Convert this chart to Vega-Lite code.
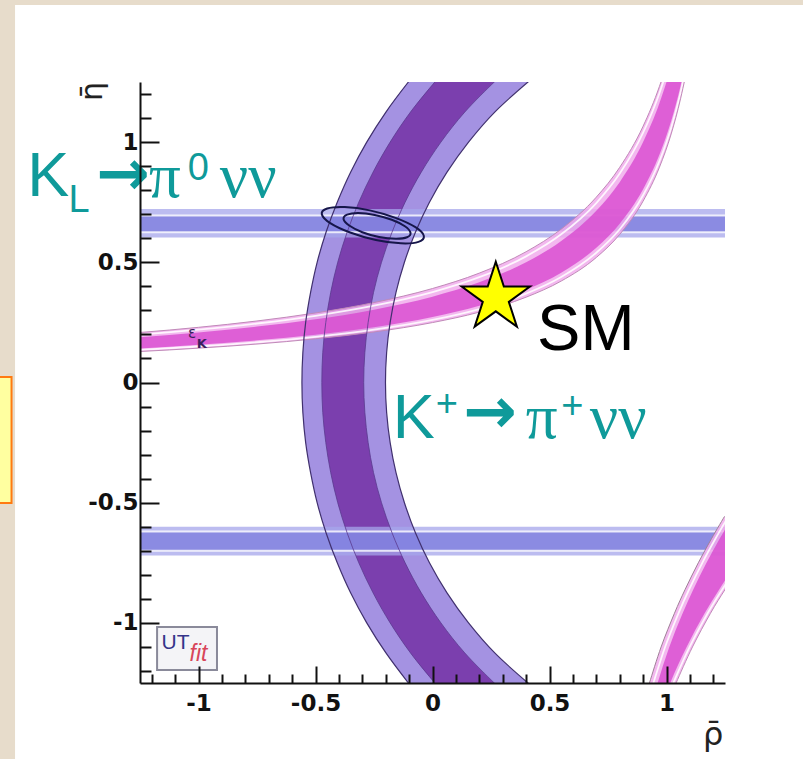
{
  "$schema": "https://vega.github.io/schema/vega-lite/v6.json",
  "width": 585,
  "height": 601,
  "autosize": {"type": "none"},
  "padding": {"left": 140, "top": 82, "right": 78, "bottom": 76},
  "background": "#e7dccb",
  "config": {"view": {"stroke": "#111111", "strokeWidth": 1.5}},
  "resolve": {"axis": {"x": "independent", "y": "independent"}},
  "datasets": {
    "ring": [
      {"eta": -1.3, "outL": -0.059, "inL": 0.057, "inR": 0.322, "outR": 0.476},
      {"eta": -1.25, "outL": -0.103, "inL": 0.010, "inR": 0.264, "outR": 0.408},
      {"eta": -1.125, "outL": -0.199, "inL": -0.094, "inR": 0.138, "outR": 0.266},
      {"eta": -1.0, "outL": -0.281, "inL": -0.181, "inR": 0.036, "outR": 0.154},
      {"eta": -0.875, "outL": -0.350, "inL": -0.254, "inR": -0.048, "outR": 0.062},
      {"eta": -0.75, "outL": -0.407, "inL": -0.315, "inR": -0.117, "outR": -0.013},
      {"eta": -0.625, "outL": -0.455, "inL": -0.365, "inR": -0.173, "outR": -0.073},
      {"eta": -0.5, "outL": -0.493, "inL": -0.405, "inR": -0.218, "outR": -0.120},
      {"eta": -0.375, "outL": -0.521, "inL": -0.435, "inR": -0.252, "outR": -0.156},
      {"eta": -0.25, "outL": -0.542, "inL": -0.456, "inR": -0.275, "outR": -0.181},
      {"eta": -0.125, "outL": -0.554, "inL": -0.469, "inR": -0.289, "outR": -0.196},
      {"eta": 0, "outL": -0.558, "inL": -0.473, "inR": -0.294, "outR": -0.201},
      {"eta": 0.125, "outL": -0.554, "inL": -0.469, "inR": -0.289, "outR": -0.196},
      {"eta": 0.25, "outL": -0.542, "inL": -0.456, "inR": -0.275, "outR": -0.181},
      {"eta": 0.375, "outL": -0.521, "inL": -0.435, "inR": -0.252, "outR": -0.156},
      {"eta": 0.5, "outL": -0.493, "inL": -0.405, "inR": -0.218, "outR": -0.120},
      {"eta": 0.625, "outL": -0.455, "inL": -0.365, "inR": -0.173, "outR": -0.073},
      {"eta": 0.75, "outL": -0.407, "inL": -0.315, "inR": -0.117, "outR": -0.013},
      {"eta": 0.875, "outL": -0.350, "inL": -0.254, "inR": -0.048, "outR": 0.062},
      {"eta": 1.0, "outL": -0.281, "inL": -0.181, "inR": 0.036, "outR": 0.154},
      {"eta": 1.125, "outL": -0.199, "inL": -0.094, "inR": 0.138, "outR": 0.266},
      {"eta": 1.25, "outL": -0.103, "inL": 0.010, "inR": 0.264, "outR": 0.408},
      {"eta": 1.3, "outL": -0.059, "inL": 0.057, "inR": 0.322, "outR": 0.476}
    ],
    "epsK": [
      {"rho": -1.3, "ot": 0.2042, "wt": 0.1956, "ct": 0.1852, "cb": 0.1391, "wb": 0.1327, "ob": 0.1267},
      {"rho": -1.25, "ot": 0.208, "wt": 0.1992, "ct": 0.1887, "cb": 0.1418, "wb": 0.1353, "ob": 0.129},
      {"rho": -1.0, "ot": 0.2295, "wt": 0.2199, "ct": 0.2083, "cb": 0.1568, "wb": 0.1497, "ob": 0.1429},
      {"rho": -0.75, "ot": 0.2559, "wt": 0.2454, "ct": 0.2326, "cb": 0.1754, "wb": 0.1675, "ob": 0.160},
      {"rho": -0.5, "ot": 0.2892, "wt": 0.2775, "ct": 0.2632, "cb": 0.1989, "wb": 0.1901, "ob": 0.1817},
      {"rho": -0.25, "ot": 0.3325, "wt": 0.3193, "ct": 0.3030, "cb": 0.2298, "wb": 0.2197, "ob": 0.2102},
      {"rho": 0, "ot": 0.391, "wt": 0.3759, "ct": 0.3571, "cb": 0.2721, "wb": 0.2604, "ob": 0.2493},
      {"rho": 0.2, "ot": 0.455, "wt": 0.438, "ct": 0.4167, "cb": 0.319, "wb": 0.3056, "ob": 0.2928},
      {"rho": 0.4, "ot": 0.544, "wt": 0.5248, "ct": 0.500, "cb": 0.3854, "wb": 0.3697, "ob": 0.3549},
      {"rho": 0.55, "ot": 0.638, "wt": 0.6163, "ct": 0.5882, "cb": 0.4568, "wb": 0.4389, "ob": 0.4219},
      {"rho": 0.7, "ot": 0.771, "wt": 0.7465, "ct": 0.7143, "cb": 0.5606, "wb": 0.5399, "ob": 0.520},
      {"rho": 0.8, "ot": 0.895, "wt": 0.8689, "ct": 0.8333, "cb": 0.6607, "wb": 0.6377, "ob": 0.616},
      {"rho": 0.9, "ot": 1.066, "wt": 1.0392, "ct": 1.0, "cb": 0.8043, "wb": 0.7788, "ob": 0.7545},
      {"rho": 0.97, "ot": 1.232, "wt": 1.2045, "ct": 1.163, "cb": 0.9487, "wb": 0.9215, "ob": 0.8957},
      {"rho": 1.02, "ot": 1.386, "wt": 1.359, "ct": 1.316, "cb": 1.088, "wb": 1.060, "ob": 1.034},
      {"rho": 1.06, "ot": 1.539, "wt": 1.514, "ct": 1.471, "cb": 1.233, "wb": 1.2055, "ob": 1.180},
      {"rho": 1.1, "ot": 1.731, "wt": 1.71, "ct": 1.667, "cb": 1.423, "wb": 1.397, "ob": 1.373},
      {"rho": 1.15, "ot": 2.05, "wt": 2.04, "ct": 2.0, "cb": 1.762, "wb": 1.743, "ob": 1.727}
    ],
    "epsK2": [
      {"eta": -1.3, "ol": 0.912, "wl": 0.929, "cl": 0.947, "cr": 0.996, "wr": 1.009, "or": 1.021},
      {"eta": -1.25, "ol": 0.927, "wl": 0.944, "cl": 0.962, "cr": 1.016, "wr": 1.029, "or": 1.041},
      {"eta": -1.1, "ol": 0.977, "wl": 0.994, "cl": 1.012, "cr": 1.086, "wr": 1.099, "or": 1.111},
      {"eta": -0.96, "ol": 1.034, "wl": 1.051, "cl": 1.069, "cr": 1.163, "wr": 1.176, "or": 1.188},
      {"eta": -0.86, "ol": 1.080, "wl": 1.097, "cl": 1.115, "cr": 1.226, "wr": 1.239, "or": 1.251},
      {"eta": -0.75, "ol": 1.136, "wl": 1.153, "cl": 1.171, "cr": 1.301, "wr": 1.314, "or": 1.326},
      {"eta": -0.65, "ol": 1.192, "wl": 1.209, "cl": 1.227, "cr": 1.376, "wr": 1.389, "or": 1.401},
      {"eta": -0.557, "ol": 1.248, "wl": 1.265, "cl": 1.283, "cr": 1.451, "wr": 1.464, "or": 1.476}
    ],
    "klBands": [
      {"band": "upper", "o1": 0.603, "o2": 0.722, "i1": 0.625, "i2": 0.695},
      {"band": "lower", "o1": -0.720, "o2": -0.600, "i1": -0.700, "i2": -0.620}
    ],
    "contours": [
      {"e": "95", "i": 0, "rho": -0.037, "eta": 0.610},
      {"e": "95", "i": 1, "rho": -0.073, "eta": 0.646},
      {"e": "95", "i": 2, "rho": -0.158, "eta": 0.685},
      {"e": "95", "i": 3, "rho": -0.268, "eta": 0.716},
      {"e": "95", "i": 4, "rho": -0.375, "eta": 0.730},
      {"e": "95", "i": 5, "rho": -0.450, "eta": 0.724},
      {"e": "95", "i": 6, "rho": -0.473, "eta": 0.700},
      {"e": "95", "i": 7, "rho": -0.437, "eta": 0.663},
      {"e": "95", "i": 8, "rho": -0.352, "eta": 0.624},
      {"e": "95", "i": 9, "rho": -0.242, "eta": 0.593},
      {"e": "95", "i": 10, "rho": -0.135, "eta": 0.579},
      {"e": "95", "i": 11, "rho": -0.060, "eta": 0.585},
      {"e": "68", "i": 0, "rho": -0.094, "eta": 0.623},
      {"e": "68", "i": 1, "rho": -0.118, "eta": 0.650},
      {"e": "68", "i": 2, "rho": -0.174, "eta": 0.677},
      {"e": "68", "i": 3, "rho": -0.247, "eta": 0.697},
      {"e": "68", "i": 4, "rho": -0.317, "eta": 0.705},
      {"e": "68", "i": 5, "rho": -0.365, "eta": 0.698},
      {"e": "68", "i": 6, "rho": -0.380, "eta": 0.679},
      {"e": "68", "i": 7, "rho": -0.356, "eta": 0.653},
      {"e": "68", "i": 8, "rho": -0.300, "eta": 0.625},
      {"e": "68", "i": 9, "rho": -0.228, "eta": 0.605},
      {"e": "68", "i": 10, "rho": -0.157, "eta": 0.598},
      {"e": "68", "i": 11, "rho": -0.109, "eta": 0.604}
    ]
  },
  "layer": [
    {
      "description": "white slide panel behind the plot",
      "data": {"values": [{"x1": -1.784, "x2": 1.75, "y1": -1.75, "y2": 1.57}]},
      "mark": {"type": "rect", "fill": "#ffffff", "clip": false},
      "encoding": {
        "x": {"field": "x1", "type": "quantitative", "axis": null},
        "x2": {"field": "x2"},
        "y": {"field": "y1", "type": "quantitative", "axis": null},
        "y2": {"field": "y2"}
      }
    },
    {
      "description": "edge of a neighbouring slide box",
      "data": {"values": [{"x1": -1.87, "x2": -1.799, "y1": -0.501, "y2": 0.023}]},
      "mark": {"type": "rect", "fill": "#ffffa0", "stroke": "#ff7a10", "strokeWidth": 2, "clip": false},
      "encoding": {
        "x": {"field": "x1", "type": "quantitative", "axis": null},
        "x2": {"field": "x2"},
        "y": {"field": "y1", "type": "quantitative", "axis": null},
        "y2": {"field": "y2"}
      }
    },
    {
      "description": "K+ -> pi+ nu nu ring, 95% region",
      "data": {"name": "ring"},
      "mark": {"type": "area", "orient": "horizontal", "interpolate": "monotone", "color": "#a492e2", "clip": true},
      "encoding": {
        "y": {"field": "eta", "type": "quantitative", "axis": null},
        "x": {"field": "outL", "type": "quantitative", "axis": null},
        "x2": {"field": "outR"}
      }
    },
    {
      "description": "K+ -> pi+ nu nu ring, 68% region",
      "data": {"name": "ring"},
      "mark": {"type": "area", "orient": "horizontal", "interpolate": "monotone", "color": "#7b3fae", "clip": true},
      "encoding": {
        "y": {"field": "eta", "type": "quantitative", "axis": null},
        "x": {"field": "inL", "type": "quantitative", "axis": null},
        "x2": {"field": "inR"}
      }
    },
    {
      "description": "KL -> pi0 nu nu bands, 95%",
      "data": {"name": "klBands"},
      "mark": {"type": "rect", "color": "#a6a6eb", "opacity": 0.75, "clip": true},
      "encoding": {
        "y": {"field": "o1", "type": "quantitative", "axis": null},
        "y2": {"field": "o2"}
      }
    },
    {
      "description": "KL -> pi0 nu nu bands, 68%",
      "data": {"name": "klBands"},
      "mark": {"type": "rect", "color": "#7b7bdd", "opacity": 0.75, "clip": true},
      "encoding": {
        "y": {"field": "i1", "type": "quantitative", "axis": null},
        "y2": {"field": "i2"}
      }
    },
    {
      "data": {"name": "klBands"},
      "mark": {"type": "rule", "color": "#ffffff", "strokeWidth": 2, "opacity": 0.8, "clip": true},
      "encoding": {"y": {"field": "i1", "type": "quantitative", "axis": null}}
    },
    {
      "data": {"name": "klBands"},
      "mark": {"type": "rule", "color": "#ffffff", "strokeWidth": 2, "opacity": 0.8, "clip": true},
      "encoding": {"y": {"field": "i2", "type": "quantitative", "axis": null}}
    },
    {
      "description": "epsilon_K hyperbola, 95%",
      "data": {"name": "epsK"},
      "mark": {"type": "area", "interpolate": "monotone", "color": "#f1abec", "opacity": 0.85, "clip": true},
      "encoding": {
        "x": {"field": "rho", "type": "quantitative", "axis": null},
        "y": {"field": "ob", "type": "quantitative", "axis": null},
        "y2": {"field": "ot"}
      }
    },
    {
      "description": "epsilon_K hyperbola, 68%",
      "data": {"name": "epsK"},
      "mark": {"type": "area", "interpolate": "monotone", "color": "#d747ce", "opacity": 0.78, "clip": true},
      "encoding": {
        "x": {"field": "rho", "type": "quantitative", "axis": null},
        "y": {"field": "cb", "type": "quantitative", "axis": null},
        "y2": {"field": "ct"}
      }
    },
    {
      "data": {"name": "epsK2"},
      "mark": {"type": "area", "orient": "horizontal", "interpolate": "monotone", "color": "#f1abec", "opacity": 0.85, "clip": true},
      "encoding": {
        "y": {"field": "eta", "type": "quantitative", "axis": null},
        "x": {"field": "ol", "type": "quantitative", "axis": null},
        "x2": {"field": "or"}
      }
    },
    {
      "data": {"name": "epsK2"},
      "mark": {"type": "area", "orient": "horizontal", "interpolate": "monotone", "color": "#d747ce", "opacity": 0.78, "clip": true},
      "encoding": {
        "y": {"field": "eta", "type": "quantitative", "axis": null},
        "x": {"field": "cl", "type": "quantitative", "axis": null},
        "x2": {"field": "cr"}
      }
    },
    {
      "data": {"name": "epsK"},
      "mark": {"type": "line", "interpolate": "monotone", "color": "#ffffff", "strokeWidth": 1.8, "opacity": 0.85, "clip": true},
      "encoding": {
        "x": {"field": "rho", "type": "quantitative", "axis": null},
        "y": {"field": "wt", "type": "quantitative", "axis": null}
      }
    },
    {
      "data": {"name": "epsK"},
      "mark": {"type": "line", "interpolate": "monotone", "color": "#ffffff", "strokeWidth": 1.8, "opacity": 0.85, "clip": true},
      "encoding": {
        "x": {"field": "rho", "type": "quantitative", "axis": null},
        "y": {"field": "wb", "type": "quantitative", "axis": null}
      }
    },
    {
      "data": {"name": "epsK"},
      "mark": {"type": "line", "interpolate": "monotone", "color": "#c08ab8", "strokeWidth": 1, "clip": true},
      "encoding": {
        "x": {"field": "rho", "type": "quantitative", "axis": null},
        "y": {"field": "ot", "type": "quantitative", "axis": null}
      }
    },
    {
      "data": {"name": "epsK"},
      "mark": {"type": "line", "interpolate": "monotone", "color": "#c08ab8", "strokeWidth": 1, "clip": true},
      "encoding": {
        "x": {"field": "rho", "type": "quantitative", "axis": null},
        "y": {"field": "ob", "type": "quantitative", "axis": null}
      }
    },
    {
      "data": {"name": "epsK2"},
      "mark": {"type": "line", "interpolate": "cardinal", "color": "#ffffff", "strokeWidth": 1.8, "opacity": 0.85, "clip": true},
      "encoding": {
        "y": {"field": "eta", "type": "quantitative", "axis": null},
        "x": {"field": "wl", "type": "quantitative", "axis": null},
        "order": {"field": "eta"}
      }
    },
    {
      "data": {"name": "epsK2"},
      "mark": {"type": "line", "interpolate": "cardinal", "color": "#ffffff", "strokeWidth": 1.8, "opacity": 0.85, "clip": true},
      "encoding": {
        "y": {"field": "eta", "type": "quantitative", "axis": null},
        "x": {"field": "wr", "type": "quantitative", "axis": null},
        "order": {"field": "eta"}
      }
    },
    {
      "data": {"name": "epsK2"},
      "mark": {"type": "line", "interpolate": "cardinal", "color": "#a08098", "strokeWidth": 1, "clip": true},
      "encoding": {
        "y": {"field": "eta", "type": "quantitative", "axis": null},
        "x": {"field": "ol", "type": "quantitative", "axis": null},
        "order": {"field": "eta"}
      }
    },
    {
      "data": {"name": "epsK2"},
      "mark": {"type": "line", "interpolate": "cardinal", "color": "#c08ab8", "strokeWidth": 1, "clip": true},
      "encoding": {
        "y": {"field": "eta", "type": "quantitative", "axis": null},
        "x": {"field": "or", "type": "quantitative", "axis": null},
        "order": {"field": "eta"}
      }
    },
    {
      "description": "outlines of the K+ ring",
      "data": {"name": "ring"},
      "mark": {"type": "line", "interpolate": "cardinal", "color": "#40306e", "strokeWidth": 1.2, "clip": true},
      "encoding": {
        "y": {"field": "eta", "type": "quantitative", "axis": null},
        "x": {"field": "outL", "type": "quantitative", "axis": null},
        "order": {"field": "eta"}
      }
    },
    {
      "data": {"name": "ring"},
      "mark": {"type": "line", "interpolate": "cardinal", "color": "#40306e", "strokeWidth": 1.2, "clip": true},
      "encoding": {
        "y": {"field": "eta", "type": "quantitative", "axis": null},
        "x": {"field": "outR", "type": "quantitative", "axis": null},
        "order": {"field": "eta"}
      }
    },
    {
      "data": {"name": "ring"},
      "mark": {"type": "line", "interpolate": "cardinal", "color": "#5a3a8e", "strokeWidth": 1, "opacity": 0.8, "clip": true},
      "encoding": {
        "y": {"field": "eta", "type": "quantitative", "axis": null},
        "x": {"field": "inL", "type": "quantitative", "axis": null},
        "order": {"field": "eta"}
      }
    },
    {
      "data": {"name": "ring"},
      "mark": {"type": "line", "interpolate": "cardinal", "color": "#5a3a8e", "strokeWidth": 1, "opacity": 0.8, "clip": true},
      "encoding": {
        "y": {"field": "eta", "type": "quantitative", "axis": null},
        "x": {"field": "inR", "type": "quantitative", "axis": null},
        "order": {"field": "eta"}
      }
    },
    {
      "description": "rho = 0 line, carries the labelled x axis",
      "mark": {"type": "rule", "color": "#111111", "strokeWidth": 1.5},
      "encoding": {
        "x": {
          "datum": 0, "type": "quantitative",
          "scale": {"domain": [-1.25, 1.25], "nice": false, "zero": false},
          "axis": {
            "title": null, "orient": "bottom", "values": [-1, -0.5, 0, 0.5, 1],
            "tickSize": -17, "tickWidth": 2, "tickColor": "#111111",
            "domain": true, "domainWidth": 2, "domainColor": "#111111", "grid": false,
            "labelFont": "DejaVu Sans", "labelFontWeight": "bold", "labelFontSize": 23,
            "labelColor": "#111111", "labelPadding": 26, "labelExpr": "'' + datum.value",
            "labelFlush": false, "labelOverlap": false, "zindex": 1
          }
        }
      }
    },
    {
      "description": "eta = 0 line, carries the labelled y axis",
      "mark": {"type": "rule", "color": "#111111", "strokeWidth": 1.5},
      "encoding": {
        "y": {
          "datum": 0, "type": "quantitative",
          "scale": {"domain": [-1.25, 1.25], "nice": false, "zero": false},
          "axis": {
            "title": null, "orient": "left", "values": [-1, -0.5, 0, 0.5, 1],
            "tickSize": -19, "tickWidth": 2, "tickColor": "#111111",
            "domain": true, "domainWidth": 2, "domainColor": "#111111", "grid": false,
            "labelFont": "DejaVu Sans", "labelFontWeight": "bold", "labelFontSize": 23,
            "labelColor": "#111111", "labelPadding": 21, "labelExpr": "'' + datum.value",
            "labelFlush": false, "labelOverlap": false, "zindex": 1
          }
        }
      }
    },
    {
      "description": "combined fit contours, carries the minor tick axes",
      "data": {"name": "contours"},
      "mark": {"type": "line", "interpolate": "cardinal-closed", "color": "#16164a", "strokeWidth": 2, "clip": true},
      "encoding": {
        "x": {
          "field": "rho", "type": "quantitative",
          "scale": {"domain": [-1.25, 1.25], "nice": false, "zero": false},
          "axis": {
            "title": null, "orient": "bottom",
            "values": [-1.2, -1.1, -0.9, -0.8, -0.7, -0.6, -0.4, -0.3, -0.2, -0.1, 0.1, 0.2, 0.3, 0.4, 0.6, 0.7, 0.8, 0.9, 1.1, 1.2],
            "tickSize": -9, "tickWidth": 2, "tickColor": "#111111",
            "domain": false, "grid": false, "labels": false, "zindex": 1
          }
        },
        "y": {
          "field": "eta", "type": "quantitative",
          "scale": {"domain": [-1.25, 1.25], "nice": false, "zero": false},
          "axis": {
            "title": null, "orient": "left",
            "values": [-1.2, -1.1, -0.9, -0.8, -0.7, -0.6, -0.4, -0.3, -0.2, -0.1, 0.1, 0.2, 0.3, 0.4, 0.6, 0.7, 0.8, 0.9, 1.1, 1.2],
            "tickSize": -11, "tickWidth": 2, "tickColor": "#111111",
            "domain": false, "grid": false, "labels": false, "zindex": 1
          }
        },
        "detail": {"field": "e"},
        "order": {"field": "i"}
      }
    },
    {
      "description": "Standard Model point",
      "data": {"values": [{"rho": 0.2705, "eta": 0.353}]},
      "mark": {
        "type": "point",
        "shape": "M0,-1L0.2245,-0.309L0.951,-0.309L0.363,0.118L0.588,0.809L0,0.382L-0.588,0.809L-0.363,0.118L-0.951,-0.309L-0.2245,-0.309Z",
        "size": 5150, "filled": true, "fill": "#ffff00", "stroke": "#000000", "strokeWidth": 2, "opacity": 1
      },
      "encoding": {
        "x": {"field": "rho", "type": "quantitative", "axis": null},
        "y": {"field": "eta", "type": "quantitative", "axis": null}
      }
    },
    {
      "data": {"values": [{"t": "SM", "x": 0.447, "y": 0.135}]},
      "mark": {"type": "text", "font": "Liberation Sans", "fontSize": 65, "color": "#000000", "align": "left", "baseline": "alphabetic", "clip": false},
      "encoding": {
        "x": {"field": "x", "type": "quantitative", "axis": null},
        "y": {"field": "y", "type": "quantitative", "axis": null},
        "text": {"field": "t"}
      }
    },
    {
      "description": "decay labels, Latin letters",
      "data": {"values": [{"t": "K", "x": -1.732, "y": 0.775}, {"t": "K", "x": -0.170, "y": -0.231}]},
      "mark": {"type": "text", "font": "Liberation Sans", "fontSize": 63, "color": "#0f9a9a", "align": "left", "baseline": "alphabetic"},
      "encoding": {
        "x": {"field": "x", "type": "quantitative", "axis": null},
        "y": {"field": "y", "type": "quantitative", "axis": null},
        "text": {"field": "t"}
      }
    },
    {
      "description": "decay labels, sub- and superscripts",
      "data": {"values": [
        {"t": "L", "x": -1.556, "y": 0.709},
        {"t": "0", "x": -1.046, "y": 0.842},
        {"t": "+", "x": 0.014, "y": -0.139},
        {"t": "+", "x": 0.550, "y": -0.148}
      ]},
      "mark": {"type": "text", "font": "Liberation Sans", "fontSize": 38, "color": "#0f9a9a", "align": "left", "baseline": "alphabetic"},
      "encoding": {
        "x": {"field": "x", "type": "quantitative", "axis": null},
        "y": {"field": "y", "type": "quantitative", "axis": null},
        "text": {"field": "t"}
      }
    },
    {
      "description": "decay labels, arrows",
      "data": {"values": [{"t": "→", "x": -1.438, "y": 0.782}, {"t": "→", "x": 0.130, "y": -0.208}]},
      "mark": {"type": "text", "font": "DejaVu Sans", "fontWeight": "bold", "fontSize": 64, "color": "#0f9a9a", "align": "left", "baseline": "alphabetic"},
      "encoding": {
        "x": {"field": "x", "type": "quantitative", "axis": null},
        "y": {"field": "y", "type": "quantitative", "axis": null},
        "text": {"field": "t"}
      }
    },
    {
      "description": "decay labels, Greek letters",
      "data": {"values": [
        {"t": "π", "x": -1.212, "y": 0.771},
        {"t": "νν", "x": -0.909, "y": 0.771},
        {"t": "π", "x": 0.399, "y": -0.231},
        {"t": "νν", "x": 0.672, "y": -0.231}
      ]},
      "mark": {"type": "text", "font": "Liberation Serif", "fontSize": 63, "color": "#0f9a9a", "align": "left", "baseline": "alphabetic"},
      "encoding": {
        "x": {"field": "x", "type": "quantitative", "axis": null},
        "y": {"field": "y", "type": "quantitative", "axis": null},
        "text": {"field": "t"}
      }
    },
    {
      "description": "epsilon_K band label",
      "data": {"values": [{"t": "ε", "x": -1.045, "y": 0.185}]},
      "mark": {"type": "text", "font": "DejaVu Sans", "fontSize": 15, "color": "#3b1f5e", "align": "left", "baseline": "alphabetic"},
      "encoding": {
        "x": {"field": "x", "type": "quantitative", "axis": null},
        "y": {"field": "y", "type": "quantitative", "axis": null},
        "text": {"field": "t"}
      }
    },
    {
      "data": {"values": [{"t": "K", "x": -1.008, "y": 0.144}]},
      "mark": {"type": "text", "font": "DejaVu Sans", "fontWeight": "bold", "fontSize": 13, "color": "#3b1f5e", "align": "left", "baseline": "alphabetic"},
      "encoding": {
        "x": {"field": "x", "type": "quantitative", "axis": null},
        "y": {"field": "y", "type": "quantitative", "axis": null},
        "text": {"field": "t"}
      }
    },
    {
      "description": "y axis title",
      "data": {"values": [{"t": "η̄", "x": -1.412, "y": 1.21}]},
      "mark": {"type": "text", "font": "DejaVu Sans", "fontSize": 30, "color": "#222222", "align": "center", "baseline": "alphabetic", "angle": 270, "clip": false},
      "encoding": {
        "x": {"field": "x", "type": "quantitative", "axis": null},
        "y": {"field": "y", "type": "quantitative", "axis": null},
        "text": {"field": "t"}
      }
    },
    {
      "description": "x axis title",
      "data": {"values": [{"t": "ρ̄", "x": 1.199, "y": -1.508}]},
      "mark": {"type": "text", "font": "DejaVu Sans", "fontSize": 32, "color": "#222222", "align": "center", "baseline": "alphabetic", "clip": false},
      "encoding": {
        "x": {"field": "x", "type": "quantitative", "axis": null},
        "y": {"field": "y", "type": "quantitative", "axis": null},
        "text": {"field": "t"}
      }
    },
    {
      "description": "UTfit logo box",
      "data": {"values": [{"x1": -1.177, "x2": -0.921, "y1": -1.196, "y2": -1.017}]},
      "mark": {"type": "rect", "fill": "#f4f4f7", "stroke": "#8a8a9a", "strokeWidth": 2},
      "encoding": {
        "x": {"field": "x1", "type": "quantitative", "axis": null},
        "x2": {"field": "x2"},
        "y": {"field": "y1", "type": "quantitative", "axis": null},
        "y2": {"field": "y2"}
      }
    },
    {
      "data": {"values": [{"t": "UT", "x": -1.158, "y": -1.11}]},
      "mark": {"type": "text", "font": "Liberation Sans", "fontSize": 21, "color": "#34348a", "align": "left", "baseline": "alphabetic"},
      "encoding": {
        "x": {"field": "x", "type": "quantitative", "axis": null},
        "y": {"field": "y", "type": "quantitative", "axis": null},
        "text": {"field": "t"}
      }
    },
    {
      "data": {"values": [{"t": "fit", "x": -1.038, "y": -1.158}]},
      "mark": {"type": "text", "font": "Liberation Sans", "fontStyle": "italic", "fontSize": 23, "color": "#d8455a", "align": "left", "baseline": "alphabetic"},
      "encoding": {
        "x": {"field": "x", "type": "quantitative", "axis": null},
        "y": {"field": "y", "type": "quantitative", "axis": null},
        "text": {"field": "t"}
      }
    }
  ]
}
